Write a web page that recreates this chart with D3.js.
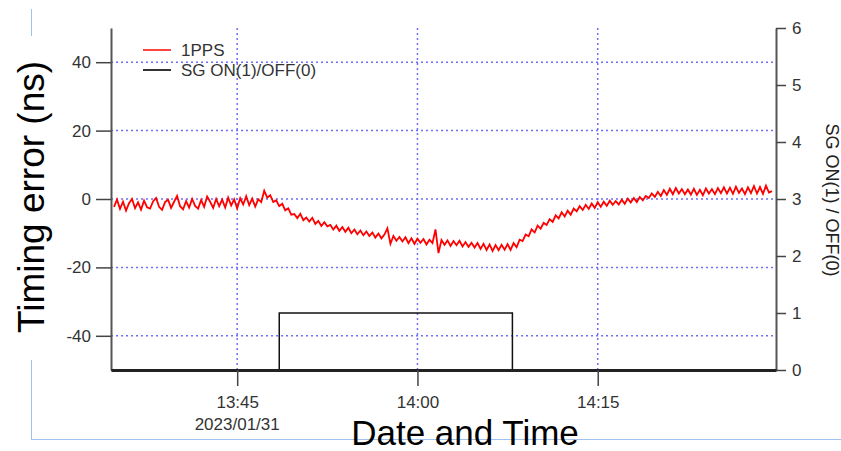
<!DOCTYPE html>
<html>
<head>
<meta charset="utf-8">
<title>Timing error</title>
<script src="https://d3js.org/d3.v7.min.js"></script>
<style>
  body { margin: 0; background: #fff; }
  svg text { font-family: "Liberation Sans", Arial, sans-serif; }
</style>
</head>
<body>
<script>
// 1PPS timing error (ns), one value every 15 s starting 13:34:45
var ppsStart = "13:34:45";
var ppsStep = 15;
var ppsValues = [
  -2.3, -0.2, -2.9, -0.8, -3.4, -1.2, 0.0, -2.7, -1.0, -3.1, -0.5, -2.4,
  -2.8, -0.7, 0.3, -2.3, -3.2, -0.9, -0.2, -2.6, -0.8, 0.9, -2.1, -3.0,
  -0.6, -2.5, 0.0, -2.0, -2.8, -0.3, -2.3, 0.7, -0.8, -2.6, 0.0, -2.1,
  -0.2, -2.5, 0.4, -1.9, -0.1, -2.7, 0.2, -1.6, 0.8, -1.8, 0.1, -2.2,
  -0.1, -0.9, 2.4, 0.4, 1.1, -0.9, -0.4, -2.1, -1.4, -3.3, -2.7, -4.6,
  -4.4, -5.6, -4.3, -6.2, -5.4, -6.6, -5.5, -7.3, -6.4, -7.9, -6.8, -8.0,
  -7.6, -8.9, -7.8, -9.3, -8.2, -9.6, -8.4, -10.0, -8.9, -10.3, -9.2, -10.6,
  -9.5, -10.8, -9.8, -11.3, -10.1, -11.5, -10.4, -8.6, -13.1, -10.8, -12.2, -11.1,
  -12.4, -11.2, -12.9, -11.5, -13.1, -11.6, -12.8, -11.7, -13.3, -11.9, -12.9, -8.9,
  -15.8, -12.0, -13.4, -12.1, -13.7, -12.3, -13.5, -12.2, -13.9, -12.6, -14.0, -12.8,
  -14.2, -12.9, -14.6, -13.1, -14.9, -13.3, -15.2, -13.5, -15.0, -13.4, -14.8, -13.2,
  -14.9, -12.9, -14.1, -11.9, -12.3, -10.4, -10.9, -8.9, -9.8, -7.8, -8.7, -7.0,
  -7.6, -5.9, -6.7, -4.8, -5.7, -3.9, -5.1, -3.4, -4.6, -2.8, -3.6, -2.1,
  -3.2, -1.7, -2.9, -1.3, -2.6, -0.9, -2.3, -0.8, -2.0, -0.5, -1.7, -0.6,
  -1.6, -0.2, -1.4, 0.1, -1.0, 0.3, -0.9, 0.6, -0.4, 0.9, 0.3, 1.6,
  0.6, 2.1, 0.9, 2.6, 1.2, 3.0, 1.4, 3.2, 1.6, 2.9, 1.4, 2.8,
  1.3, 3.0, 1.2, 2.7, 1.1, 3.1, 1.6, 2.9, 1.4, 3.2, 1.7, 3.4,
  1.6, 3.3, 1.5, 3.6, 1.8, 3.1, 1.4, 3.4, 1.7, 3.8, 1.6, 3.5,
  1.5, 3.9, 1.9, 2.3
];

// SG on/off state changes
var sgTimes = ["13:34:30", "13:48:30", "14:07:54", "14:29:50"];
var sgValues = [0, 1, 0, 0];

var leftTicks = [-40, -20, 0, 20, 40];
var rightTicks = [0, 1, 2, 3, 4, 5, 6];
var timeTicks = ["13:45", "14:00", "14:15"];
var dateLabel = "2023/01/31";

function toDate(s) {
  var p = s.split(":").map(Number);
  return new Date(2023, 0, 31, p[0], p[1], p[2] || 0);
}

var w = 841, h = 451;
var m = { left: 111, right: 776, top: 28, bottom: 370 };

var svg = d3.select("body").append("svg")
  .attr("width", w)
  .attr("height", h);

var x = d3.scaleTime()
  .domain([toDate("13:34:30"), toDate("14:29:50")])
  .range([m.left, m.right]);
var yL = d3.scaleLinear().domain([-50, 50]).range([m.bottom, m.top]);
var yR = d3.scaleLinear().domain([0, 6]).range([m.bottom, m.top]);

var t0 = toDate(ppsStart);
var pps = ppsValues.map(function(v, i) {
  return { t: new Date(t0.getTime() + i * ppsStep * 1000), v: v };
});
var sg = sgTimes.map(function(t, i) { return { t: toDate(t), v: sgValues[i] }; });

// light frame lines
var frame = svg.append("g").attr("stroke", "#9fc2ee").attr("stroke-width", 1);
frame.append("line").attr("x1", 31.5).attr("x2", 31.5).attr("y1", 9).attr("y2", 36);
frame.append("line").attr("x1", 31.5).attr("x2", 31.5).attr("y1", 360).attr("y2", 439.5);
frame.append("line").attr("x1", 31).attr("x2", w).attr("y1", 439.5).attr("y2", 439.5);

// grid
var grid = svg.append("g")
  .attr("stroke", "#6f6ff7")
  .attr("stroke-width", 1.5)
  .attr("stroke-dasharray", "2,3");
grid.selectAll(".hg").data(leftTicks).enter().append("line")
  .attr("x1", m.left).attr("x2", m.right)
  .attr("y1", function(d) { return yL(d); })
  .attr("y2", function(d) { return yL(d); });
grid.selectAll(".vg").data(timeTicks).enter().append("line")
  .attr("x1", function(d) { return x(toDate(d)); })
  .attr("x2", function(d) { return x(toDate(d)); })
  .attr("y1", m.top).attr("y2", m.bottom);

// SG step line
svg.append("path")
  .datum(sg)
  .attr("fill", "none")
  .attr("stroke", "#111")
  .attr("stroke-width", 1.5)
  .attr("d", d3.line()
    .curve(d3.curveStepAfter)
    .x(function(d) { return x(d.t); })
    .y(function(d) { return yR(d.v); }));

// 1PPS line
svg.append("path")
  .datum(pps)
  .attr("fill", "none")
  .attr("stroke", "#ff0000")
  .attr("stroke-width", 1.8)
  .attr("d", d3.line()
    .x(function(d) { return x(d.t); })
    .y(function(d) { return yL(d.v); }));

// axes
function styleAxis(g) {
  g.select(".domain").attr("stroke", "#555").attr("stroke-width", 2);
  g.selectAll(".tick line").attr("stroke", "#444").attr("stroke-width", 1.5);
  g.selectAll(".tick text").attr("fill", "#333").style("font-size", "17px")
    .style("font-family", "'Liberation Sans', Arial, sans-serif");
}

svg.append("g")
  .attr("transform", "translate(" + m.left + ",0)")
  .call(d3.axisLeft(yL).tickValues(leftTicks).tickFormat(function(d) { return String(d); })
    .tickSize(15).tickSizeOuter(0).tickPadding(5))
  .call(styleAxis);

svg.append("g")
  .attr("transform", "translate(" + m.right + ",0)")
  .call(d3.axisRight(yR).tickValues(rightTicks).tickFormat(d3.format("d"))
    .tickSize(10).tickSizeOuter(0).tickPadding(6))
  .call(styleAxis);

var xAxis = svg.append("g")
  .attr("transform", "translate(0," + m.bottom + ")")
  .call(d3.axisBottom(x).tickValues(timeTicks.map(toDate))
    .tickFormat(d3.timeFormat("%H:%M")).tickSize(16).tickSizeOuter(0).tickPadding(10))
  .call(styleAxis);
xAxis.select(".domain").attr("stroke", "#222").attr("stroke-width", 3);

svg.append("text")
  .attr("x", x(toDate(timeTicks[0])))
  .attr("y", 430)
  .attr("text-anchor", "middle")
  .attr("fill", "#333")
  .style("font-size", "17px")
  .text(dateLabel);

// titles
svg.append("text")
  .attr("transform", "translate(44,197) rotate(-90)")
  .attr("text-anchor", "middle")
  .attr("fill", "#000")
  .style("font-size", "37px")
  .text("Timing error (ns)");

svg.append("text")
  .attr("x", 465)
  .attr("y", 445)
  .attr("text-anchor", "middle")
  .attr("fill", "#000")
  .style("font-size", "35px")
  .text("Date and Time");

svg.append("text")
  .attr("transform", "translate(826,200) rotate(90)")
  .attr("text-anchor", "middle")
  .attr("fill", "#222")
  .style("font-size", "18px")
  .text("SG ON(1) / OFF(0)");

// legend
var legend = [
  { name: "1PPS", color: "#ff4444", y: 50 },
  { name: "SG ON(1)/OFF(0)", color: "#333", y: 70 }
];
var lg = svg.append("g");
lg.selectAll("line").data(legend).enter().append("line")
  .attr("x1", 143).attr("x2", 171)
  .attr("y1", function(d) { return d.y; })
  .attr("y2", function(d) { return d.y; })
  .attr("stroke", function(d) { return d.color; })
  .attr("stroke-width", 2);
lg.selectAll("text").data(legend).enter().append("text")
  .attr("x", 181)
  .attr("y", function(d) { return d.y + 6; })
  .attr("fill", "#333")
  .style("font-size", "17px")
  .text(function(d) { return d.name; });
</script>
</body>
</html>
